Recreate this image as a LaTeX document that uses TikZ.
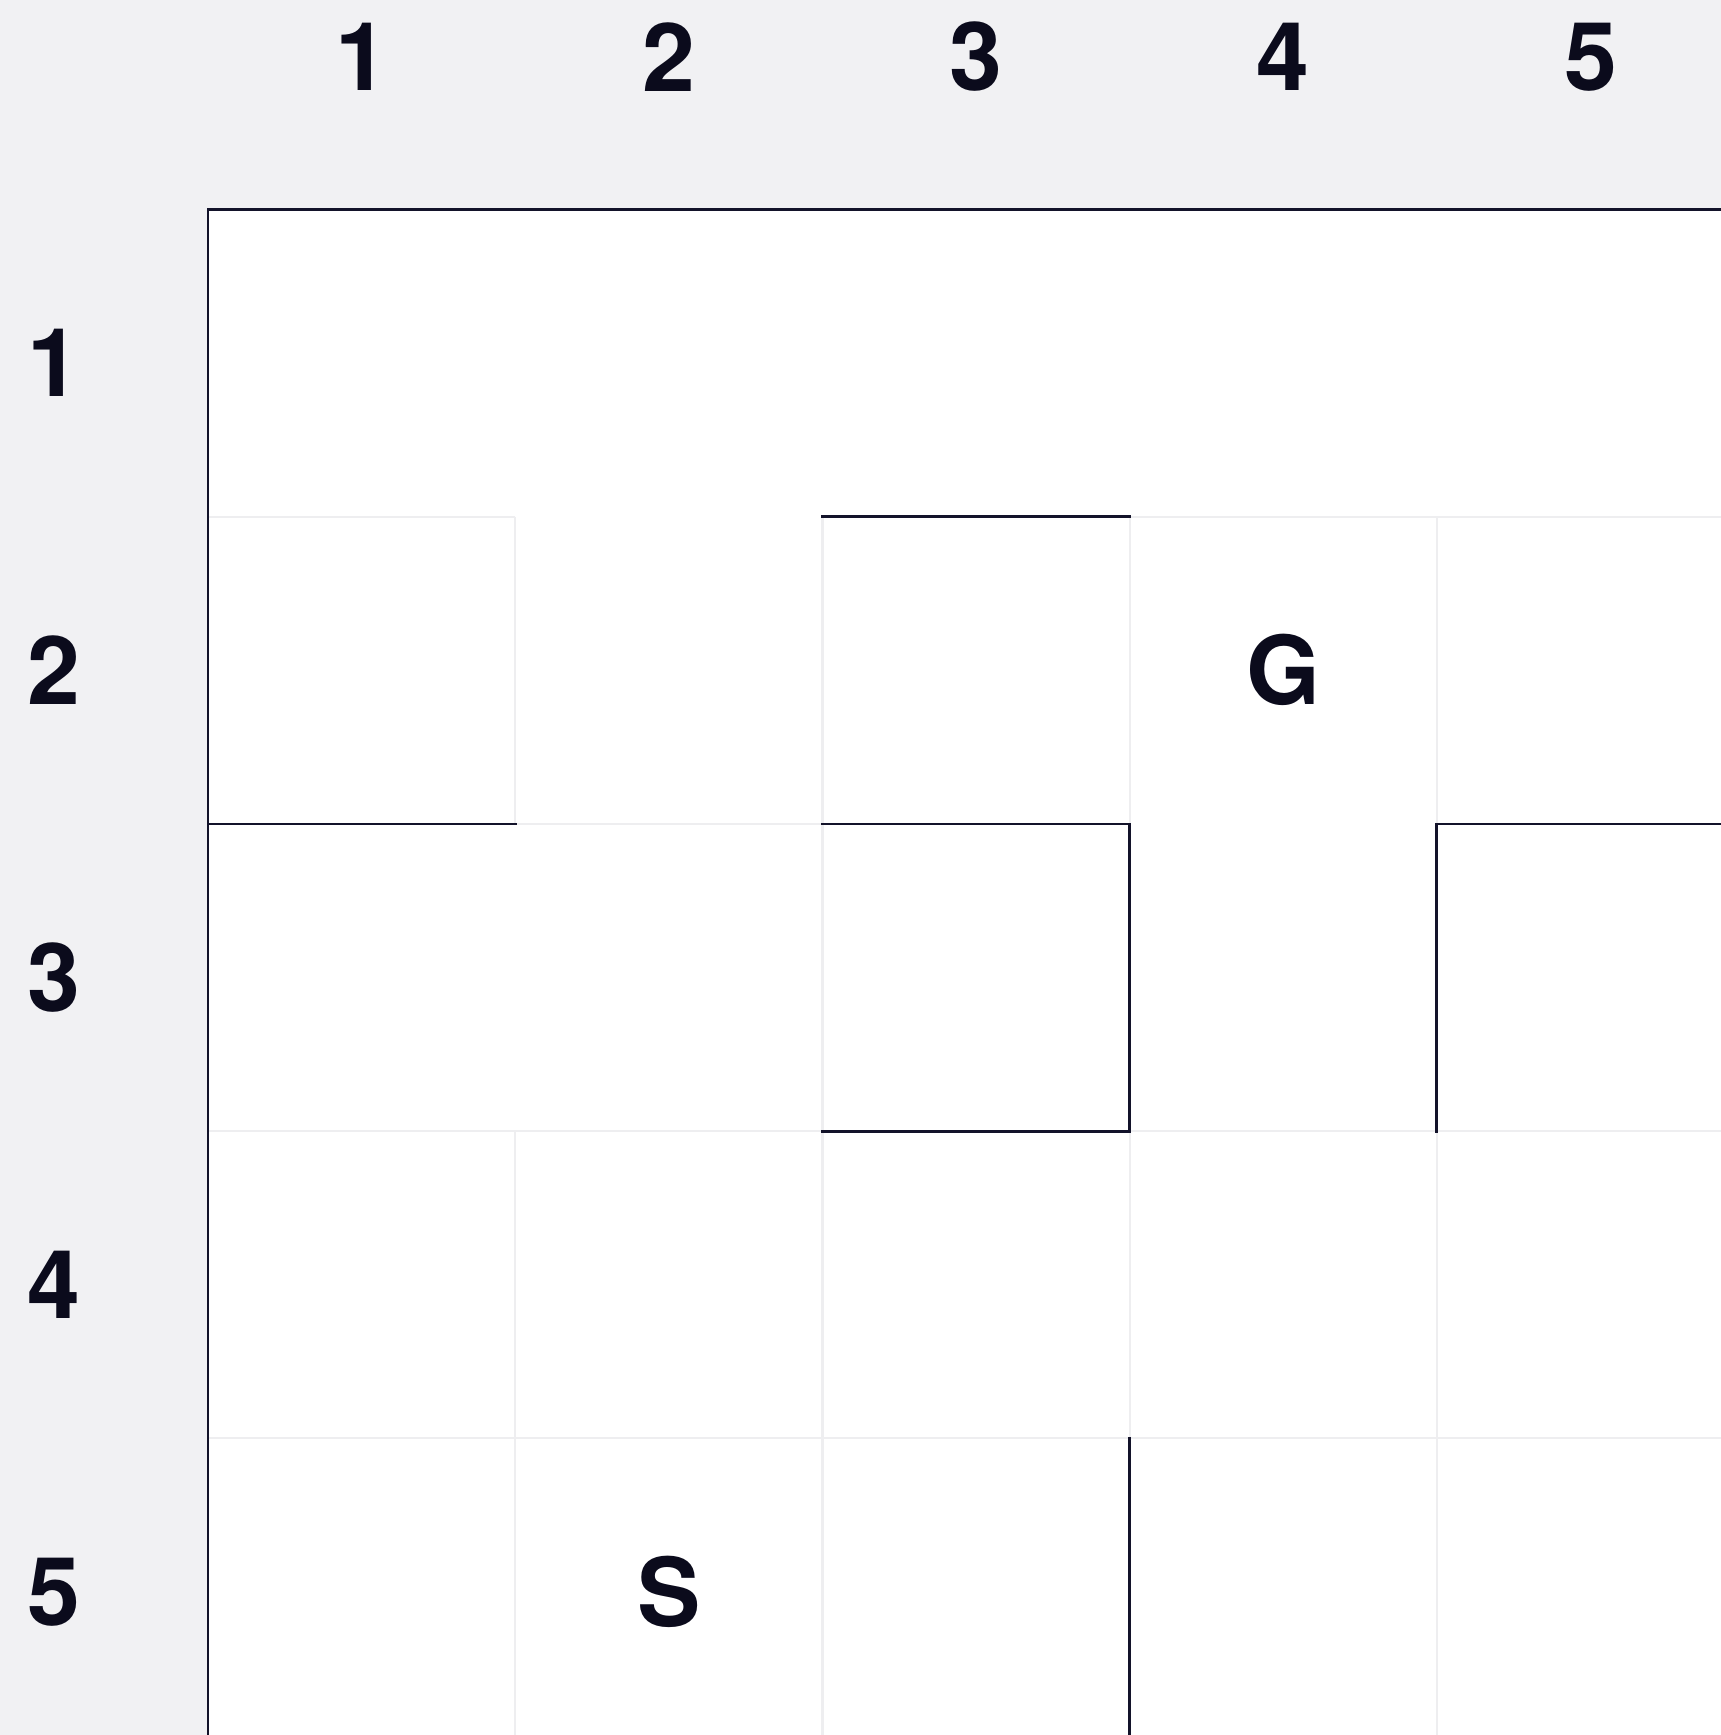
\documentclass[tikz,border=0pt]{standalone}
\usepackage{fontspec}
\setmainfont{TeX Gyre Heros}
\definecolor{bggrey}{HTML}{F1F1F3}
\definecolor{gridgrey}{HTML}{EEEEF0}
\definecolor{wallink}{HTML}{13132A}
\definecolor{labelink}{HTML}{0B0B1C}
\tikzset{
  gridline/.style={draw=gridgrey, line width=2.2pt},
  wall/.style={draw=wallink, line width=2.8pt, line cap=rect},
  lbl/.style={text=labelink, font=\fontsize{95}{100}\selectfont\bfseries, inner sep=0pt, anchor=center}
}
\begin{document}
\begin{tikzpicture}[x=1pt,y=-1pt]
\useasboundingbox (0,0) rectangle (1721,1735);
\clip (0,0) rectangle (1721,1735);
\fill[bggrey] (0,0) rectangle (1721,1735);
\def\xa{208}\def\ya{209.5}\def\cs{307.2}
\fill[white] (\xa,\ya) rectangle (1760,1760);
% light grid lines
\begin{scope}[gridline]
% horizontal
\draw ({\xa+0*\cs},{\ya+1*\cs}) -- ({\xa+1*\cs},{\ya+1*\cs});
\draw ({\xa+3*\cs},{\ya+1*\cs}) -- ({\xa+5*\cs},{\ya+1*\cs});
\draw ({\xa+1*\cs},{\ya+2*\cs}) -- ({\xa+2*\cs},{\ya+2*\cs});
\draw ({\xa+0*\cs},{\ya+3*\cs}) -- ({\xa+2*\cs},{\ya+3*\cs});
\draw ({\xa+3*\cs},{\ya+3*\cs}) -- ({\xa+5*\cs},{\ya+3*\cs});
\draw ({\xa+0*\cs},{\ya+4*\cs}) -- ({\xa+5*\cs},{\ya+4*\cs});
% vertical
\draw ({\xa+1*\cs},{\ya+1*\cs}) -- ({\xa+1*\cs},{\ya+2*\cs});
\draw ({\xa+1*\cs},{\ya+3*\cs}) -- ({\xa+1*\cs},{\ya+5*\cs});
\draw ({\xa+2*\cs},{\ya+1*\cs}) -- ({\xa+2*\cs},{\ya+5*\cs});
\draw ({\xa+3*\cs},{\ya+1*\cs}) -- ({\xa+3*\cs},{\ya+2*\cs});
\draw ({\xa+3*\cs},{\ya+3*\cs}) -- ({\xa+3*\cs},{\ya+4*\cs});
\draw ({\xa+4*\cs},{\ya+1*\cs}) -- ({\xa+4*\cs},{\ya+2*\cs});
\draw ({\xa+4*\cs},{\ya+3*\cs}) -- ({\xa+4*\cs},{\ya+5*\cs});
\end{scope}
% walls
\begin{scope}[wall]
\draw ({\xa},{\ya}) -- ({\xa+5*\cs},{\ya});
\draw ({\xa},{\ya}) -- ({\xa},{\ya+5*\cs});
\draw ({\xa+2*\cs},{\ya+1*\cs}) -- ({\xa+3*\cs},{\ya+1*\cs});
\draw ({\xa+0*\cs},{\ya+2*\cs}) -- ({\xa+1*\cs},{\ya+2*\cs});
\draw ({\xa+2*\cs},{\ya+2*\cs}) -- ({\xa+3*\cs},{\ya+2*\cs}) -- ({\xa+3*\cs},{\ya+3*\cs}) -- ({\xa+2*\cs},{\ya+3*\cs});
\draw ({\xa+5*\cs},{\ya+2*\cs}) -- ({\xa+4*\cs},{\ya+2*\cs}) -- ({\xa+4*\cs},{\ya+3*\cs});
\draw ({\xa+3*\cs},{\ya+4*\cs}) -- ({\xa+3*\cs},{\ya+5*\cs});
\end{scope}
% column labels
\foreach \i in {1,...,5}{
  \node[lbl] (col\i) at ({\xa+(\i-0.5)*\cs},57) {\i};
}
% row labels
\foreach \i in {1,...,5}{
  \node[lbl] (row\i) at (54,{\ya+(\i-0.5)*\cs}) {\i};
}
% goal and start
\node[lbl] (goal) at ({\xa+3.5*\cs},{\ya+1.5*\cs}) {G};
\node[lbl] (start) at ({\xa+1.5*\cs},{\ya+4.5*\cs}) {S};
\end{tikzpicture}
\end{document}
